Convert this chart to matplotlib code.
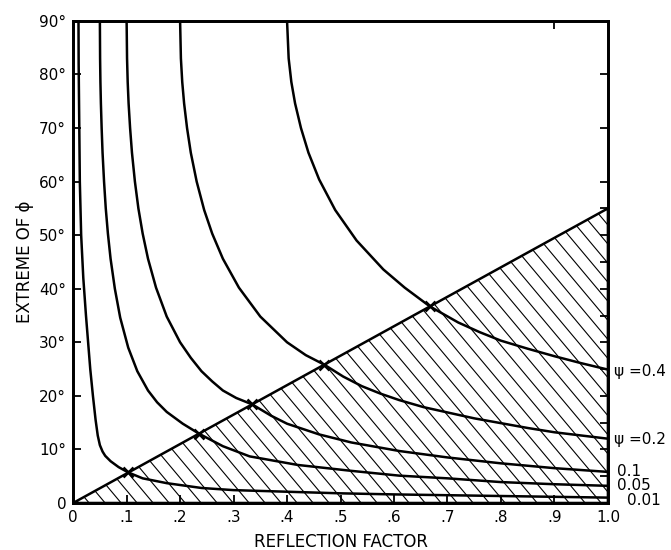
import numpy as np
import matplotlib
matplotlib.use("Agg")
import matplotlib.pyplot as plt
from matplotlib.patches import Polygon

# 曲线数据：反射系数 R 与 φ 的极值（度）
r_04 = [0.400, 0.403, 0.408, 0.415, 0.426, 0.44, 0.46, 0.49, 0.53, 0.58, 0.62,
        0.667, 0.72, 0.76, 0.80, 0.85, 0.90, 0.95, 1.00]
phi_04 = [90, 83, 78.6, 74.6, 70, 65.4, 60.4, 54.7, 49, 43.6, 40.2,
          36.7, 33.7, 31.9, 30.3, 28.8, 27.4, 26.1, 24.9]

r_02 = [0.200, 0.2015, 0.204, 0.2075, 0.213, 0.22, 0.231, 0.245, 0.26, 0.28,
        0.31, 0.35, 0.40, 0.435, 0.47, 0.505, 0.54, 0.575, 0.61, 0.655, 0.70,
        0.75, 0.80, 0.85, 0.90, 0.95, 1.00]
phi_02 = [90, 83, 78.6, 74.6, 70, 65.4, 60, 54.7, 50.3, 45.6,
          40.2, 34.8, 30, 27.6, 25.8, 23.6, 21.8, 20.4, 19.2, 17.9, 16.9,
          15.8, 14.9, 14.0, 13.2, 12.6, 12.0]

r_01 = [0.100, 0.1008, 0.102, 0.1037, 0.1065, 0.11, 0.1155, 0.122, 0.13, 0.14,
        0.155, 0.175, 0.20, 0.22, 0.24, 0.26, 0.28, 0.305, 0.335, 0.37, 0.40,
        0.46, 0.52, 0.61, 0.70, 0.80, 0.90, 1.00]
phi_01 = [90, 83, 78.6, 74.6, 70, 65.4, 60, 55, 50.3, 45.6,
          40.2, 34.8, 30, 27.1, 24.6, 22.7, 21, 19.6, 18.4, 16.3, 14.8,
          12.8, 11.3, 9.7, 8.5, 7.4, 6.5, 5.8]

r_005 = [0.050, 0.0504, 0.051, 0.0519, 0.0533, 0.055, 0.0578, 0.061, 0.065,
         0.07, 0.078, 0.088, 0.103, 0.12, 0.14, 0.157, 0.175, 0.205, 0.236,
         0.28, 0.33, 0.42, 0.52, 0.61, 0.70, 0.80, 0.90, 1.00]
phi_005 = [90, 83, 78.6, 74.6, 70, 65.4, 60, 55, 50.3,
           45.6, 40, 34.6, 29, 24.6, 21, 18.8, 17, 14.8, 12.9,
           10.6, 8.7, 7.1, 6.0, 5.1, 4.6, 3.9, 3.5, 3.2]

r_001 = [0.010, 0.0103, 0.011, 0.0125, 0.015, 0.019, 0.024, 0.028, 0.032,
         0.037, 0.042, 0.046, 0.05, 0.055, 0.06, 0.07, 0.085, 0.103, 0.13,
         0.175, 0.24, 0.30, 0.40, 0.50, 0.60, 0.70, 0.80, 0.90, 1.00]
phi_001 = [90, 82, 75, 60, 50, 42, 35, 30, 25,
           20, 15.5, 12.6, 10.8, 9.6, 8.8, 7.8, 6.7, 5.7, 4.6,
           3.7, 2.8, 2.4, 2.1, 1.8, 1.6, 1.45, 1.3, 1.15, 1.0]

curves = [(r_04, phi_04), (r_02, phi_02), (r_01, phi_01),
          (r_005, phi_005), (r_001, phi_001)]

# 交点（× 标记）
cross_r = [0.103, 0.236, 0.335, 0.47, 0.667]
cross_phi = [5.7, 12.9, 18.4, 25.8, 36.7]

# 阴影三角区的边界：R=1.0 时为 55°
edge_r = [0.0, 1.0, 1.0]
edge_phi = [0.0, 0.0, 55.0]

x_ticks = [0, 0.1, 0.2, 0.3, 0.4, 0.5, 0.6, 0.7, 0.8, 0.9, 1.0]
x_labels = ["0", ".1", ".2", ".3", ".4", ".5", ".6", ".7", ".8", ".9", "1.0"]
y_ticks = [0, 10, 20, 30, 40, 50, 60, 70, 80, 90]
y_labels = ["0", "10°", "20°", "30°", "40°", "50°", "60°", "70°", "80°", "90°"]
right_ticks = [5, 10, 15, 20, 25, 30, 35, 40, 45, 50, 55, 60, 70, 80]
top_ticks = [0.9]

# 右侧标注
label_phi = [24.6, 11.8, 5.9, 3.2, 0.4]
label_text = ["ψ =0.4", "ψ =0.2", "0.1", "0.05", "0.01"]
label_dx = [0.012, 0.012, 0.017, 0.017, 0.036]

plt.rcParams['font.family'] = ['DejaVu Sans']

fig = plt.figure(figsize=(6.71, 5.5), dpi=100)
ax = fig.add_axes([0.109, 0.0855, 0.797, 0.8765])
ax.set_xlim(0, 1.0)
ax.set_ylim(0, 90)

# 阴影三角
tri = Polygon(list(zip(edge_r, edge_phi)), closed=True, fill=False,
              edgecolor='black', linewidth=1.8, joinstyle='miter')
ax.add_patch(tri)

# 斜线填充（约 50°，水平间距约 16 像素）
p0 = ax.transData.transform((0, 0))
p1 = ax.transData.transform((1, 90))
px_r = p1[0] - p0[0]
px_deg = (p1[1] - p0[1]) / 90.0
slope = -np.tan(np.radians(50)) * px_r / px_deg  # 度 / 单位R
step = 16.0 / px_r
for x0 in np.arange(0.0, 1.0 + 55.0 / abs(slope) + step, step):
    xs = np.array([x0 - 90.0 / abs(slope), x0])
    ys = slope * (xs - x0)
    ln, = ax.plot(xs, ys, color='black', linewidth=0.8)
    ln.set_clip_path(tri)

for r, phi in curves:
    ax.plot(r, phi, color='black', linewidth=1.8, solid_capstyle='butt',
            solid_joinstyle='round')

ax.plot(cross_r, cross_phi, linestyle='none', marker='x', color='black',
        markersize=7, markeredgewidth=1.8)

for txt, ph, dx in zip(label_text, label_phi, label_dx):
    ax.text(1.0 + dx, ph, txt, fontsize=11, va='center', ha='left',
            clip_on=False)

ax.set_xticks(x_ticks)
ax.set_xticklabels(x_labels)
ax.set_yticks(y_ticks)
ax.set_yticklabels(y_labels)
ax.tick_params(axis='both', direction='in', length=6, width=1.3,
               labelsize=11, pad=5)

ax2 = ax.twinx()
ax2.set_ylim(0, 90)
ax2.set_yticks(right_ticks)
ax2.set_yticklabels([])
ax2.tick_params(axis='y', direction='in', length=6, width=1.3)

ax3 = ax.twiny()
ax3.set_xlim(0, 1.0)
ax3.set_xticks(top_ticks)
ax3.set_xticklabels([])
ax3.tick_params(axis='x', direction='in', length=6, width=1.3)

for a in (ax, ax2, ax3):
    for s in a.spines.values():
        s.set_linewidth(1.8)

ax.set_xlabel("REFLECTION FACTOR", fontsize=12, labelpad=6)
ax.set_ylabel("EXTREME OF ϕ", fontsize=12, labelpad=4)

fig.savefig("out.png", dpi=100)
